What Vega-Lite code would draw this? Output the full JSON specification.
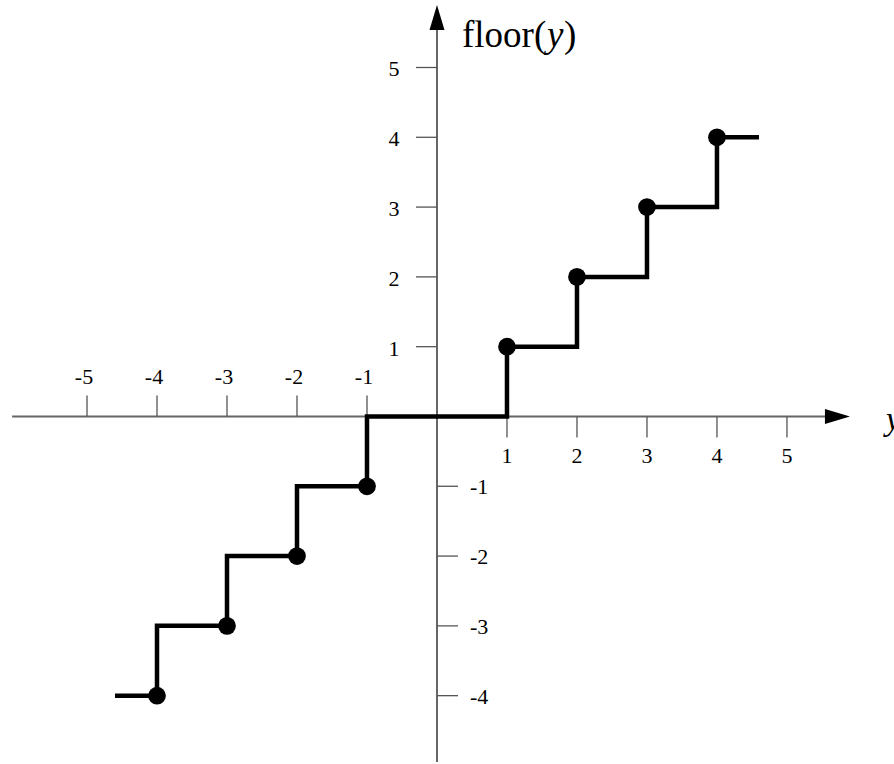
{
  "$schema": "https://vega.github.io/schema/vega-lite/v6.json",
  "width": 894,
  "height": 764,
  "padding": 0,
  "autosize": {"type": "none"},
  "config": {"view": {"stroke": null}, "text": {"font": "Liberation Serif"}},
  "datasets": {
    "axes": [
      {"x": -6.07, "y": 0, "x2": 5.55, "y2": 0},
      {"x": 0, "y": -4.95, "x2": 0, "y2": 5.54}
    ],
    "xticks": [{"v": -5}, {"v": -4}, {"v": -3}, {"v": -2}, {"v": -1}, {"v": 1}, {"v": 2}, {"v": 3}, {"v": 4}, {"v": 5}],
    "yticks": [{"v": -4}, {"v": -3}, {"v": -2}, {"v": -1}, {"v": 1}, {"v": 2}, {"v": 3}, {"v": 4}, {"v": 5}],
    "steps": [
      {"i": 0, "x": -4.6, "y": -4},
      {"i": 1, "x": -4, "y": -4},
      {"i": 2, "x": -4, "y": -3},
      {"i": 3, "x": -3, "y": -3},
      {"i": 4, "x": -3, "y": -2},
      {"i": 5, "x": -2, "y": -2},
      {"i": 6, "x": -2, "y": -1},
      {"i": 7, "x": -1, "y": -1},
      {"i": 8, "x": -1, "y": 0},
      {"i": 9, "x": 1, "y": 0},
      {"i": 10, "x": 1, "y": 1},
      {"i": 11, "x": 2, "y": 1},
      {"i": 12, "x": 2, "y": 2},
      {"i": 13, "x": 3, "y": 2},
      {"i": 14, "x": 3, "y": 3},
      {"i": 15, "x": 4, "y": 3},
      {"i": 16, "x": 4, "y": 4},
      {"i": 17, "x": 4.6, "y": 4}
    ],
    "dots": [
      {"x": -4, "y": -4}, {"x": -3, "y": -3}, {"x": -2, "y": -2}, {"x": -1, "y": -1},
      {"x": 1, "y": 1}, {"x": 2, "y": 2}, {"x": 3, "y": 3}, {"x": 4, "y": 4}
    ]
  },
  "encoding": {
    "x": {"type": "quantitative", "scale": {"domain": [-6.243, 6.529], "nice": false, "zero": false}, "axis": null},
    "y": {"type": "quantitative", "scale": {"domain": [-4.979, 5.967], "nice": false, "zero": false}, "axis": null}
  },
  "layer": [
    {
      "data": {"name": "axes"},
      "mark": {"type": "rule", "color": "#666666", "strokeWidth": 2},
      "encoding": {
        "x": {"field": "x", "type": "quantitative"},
        "y": {"field": "y", "type": "quantitative"},
        "x2": {"field": "x2"},
        "y2": {"field": "y2"}
      }
    },
    {
      "data": {"name": "xticks"},
      "transform": [{"filter": "datum.v < 0"}],
      "mark": {"type": "rule", "color": "#555555", "strokeWidth": 1.3, "y2Offset": -21},
      "encoding": {
        "x": {"field": "v", "type": "quantitative"},
        "y": {"datum": 0, "type": "quantitative"},
        "y2": {"datum": 0}
      }
    },
    {
      "data": {"name": "xticks"},
      "transform": [{"filter": "datum.v > 0"}],
      "mark": {"type": "rule", "color": "#555555", "strokeWidth": 1.3, "y2Offset": 21},
      "encoding": {
        "x": {"field": "v", "type": "quantitative"},
        "y": {"datum": 0, "type": "quantitative"},
        "y2": {"datum": 0}
      }
    },
    {
      "data": {"name": "yticks"},
      "transform": [{"filter": "datum.v > 0"}],
      "mark": {"type": "rule", "color": "#555555", "strokeWidth": 1.3, "x2Offset": -21},
      "encoding": {
        "y": {"field": "v", "type": "quantitative"},
        "x": {"datum": 0, "type": "quantitative"},
        "x2": {"datum": 0}
      }
    },
    {
      "data": {"name": "yticks"},
      "transform": [{"filter": "datum.v < 0"}],
      "mark": {"type": "rule", "color": "#555555", "strokeWidth": 1.3, "x2Offset": 21},
      "encoding": {
        "y": {"field": "v", "type": "quantitative"},
        "x": {"datum": 0, "type": "quantitative"},
        "x2": {"datum": 0}
      }
    },
    {
      "data": {"name": "xticks"},
      "transform": [{"filter": "datum.v < 0"}],
      "mark": {"type": "text", "fontSize": 22, "align": "center", "baseline": "alphabetic", "dy": -32, "dx": -3, "color": "#000000"},
      "encoding": {
        "x": {"field": "v", "type": "quantitative"},
        "y": {"datum": 0, "type": "quantitative"},
        "text": {"field": "v", "type": "nominal"}
      }
    },
    {
      "data": {"name": "xticks"},
      "transform": [{"filter": "datum.v > 0"}],
      "mark": {"type": "text", "fontSize": 22, "align": "center", "baseline": "alphabetic", "dy": 47, "color": "#000000"},
      "encoding": {
        "x": {"field": "v", "type": "quantitative"},
        "y": {"datum": 0, "type": "quantitative"},
        "text": {"field": "v", "type": "nominal"}
      }
    },
    {
      "data": {"name": "yticks"},
      "transform": [{"filter": "datum.v > 0"}],
      "mark": {"type": "text", "fontSize": 22, "align": "center", "baseline": "alphabetic", "dx": -43, "dy": 9, "color": "#000000"},
      "encoding": {
        "y": {"field": "v", "type": "quantitative"},
        "x": {"datum": 0, "type": "quantitative"},
        "text": {"field": "v", "type": "nominal"}
      }
    },
    {
      "data": {"name": "yticks"},
      "transform": [{"filter": "datum.v < 0"}],
      "mark": {"type": "text", "fontSize": 22, "align": "left", "baseline": "alphabetic", "dx": 33, "dy": 8, "color": "#000000"},
      "encoding": {
        "y": {"field": "v", "type": "quantitative"},
        "x": {"datum": 0, "type": "quantitative"},
        "text": {"field": "v", "type": "nominal"}
      }
    },
    {
      "data": {"name": "steps"},
      "mark": {"type": "line", "color": "#000000", "strokeWidth": 4.5, "strokeJoin": "miter"},
      "encoding": {
        "x": {"field": "x", "type": "quantitative"},
        "y": {"field": "y", "type": "quantitative"},
        "order": {"field": "i", "type": "quantitative"}
      }
    },
    {
      "data": {"name": "dots"},
      "mark": {"type": "point", "filled": true, "color": "#000000", "opacity": 1, "size": 314},
      "encoding": {
        "x": {"field": "x", "type": "quantitative"},
        "y": {"field": "y", "type": "quantitative"}
      }
    },
    {
      "data": {"values": [{"x": 0, "y": 5.716}]},
      "mark": {"type": "point", "filled": true, "color": "#000000", "opacity": 1, "size": 625, "shape": "M0,-1L0.6,1L-0.6,1Z"},
      "encoding": {
        "x": {"field": "x", "type": "quantitative"},
        "y": {"field": "y", "type": "quantitative"}
      }
    },
    {
      "data": {"values": [{"x": 5.721, "y": 0}]},
      "mark": {"type": "point", "filled": true, "color": "#000000", "opacity": 1, "size": 625, "shape": "M1,0L-1,0.6L-1,-0.6Z"},
      "encoding": {
        "x": {"field": "x", "type": "quantitative"},
        "y": {"field": "y", "type": "quantitative"}
      }
    },
    {
      "data": {"values": [{"x": 0.357, "y": 5.294}]},
      "mark": {"type": "text", "text": "floor(", "fontSize": 37, "align": "left", "baseline": "alphabetic", "color": "#000000"},
      "encoding": {
        "x": {"field": "x", "type": "quantitative"},
        "y": {"field": "y", "type": "quantitative"}
      }
    },
    {
      "data": {"values": [{"x": 0.357, "y": 5.294}]},
      "mark": {"type": "text", "text": "y", "fontSize": 37, "fontStyle": "italic", "align": "left", "baseline": "alphabetic", "dx": 85, "color": "#000000"},
      "encoding": {
        "x": {"field": "x", "type": "quantitative"},
        "y": {"field": "y", "type": "quantitative"}
      }
    },
    {
      "data": {"values": [{"x": 0.357, "y": 5.294}]},
      "mark": {"type": "text", "text": ")", "fontSize": 37, "align": "left", "baseline": "alphabetic", "dx": 102, "color": "#000000"},
      "encoding": {
        "x": {"field": "x", "type": "quantitative"},
        "y": {"field": "y", "type": "quantitative"}
      }
    },
    {
      "data": {"values": [{"x": 6.414, "y": -0.193}]},
      "mark": {"type": "text", "text": "y", "fontSize": 34, "fontStyle": "italic", "align": "left", "baseline": "alphabetic", "color": "#000000"},
      "encoding": {
        "x": {"field": "x", "type": "quantitative"},
        "y": {"field": "y", "type": "quantitative"}
      }
    }
  ]
}
